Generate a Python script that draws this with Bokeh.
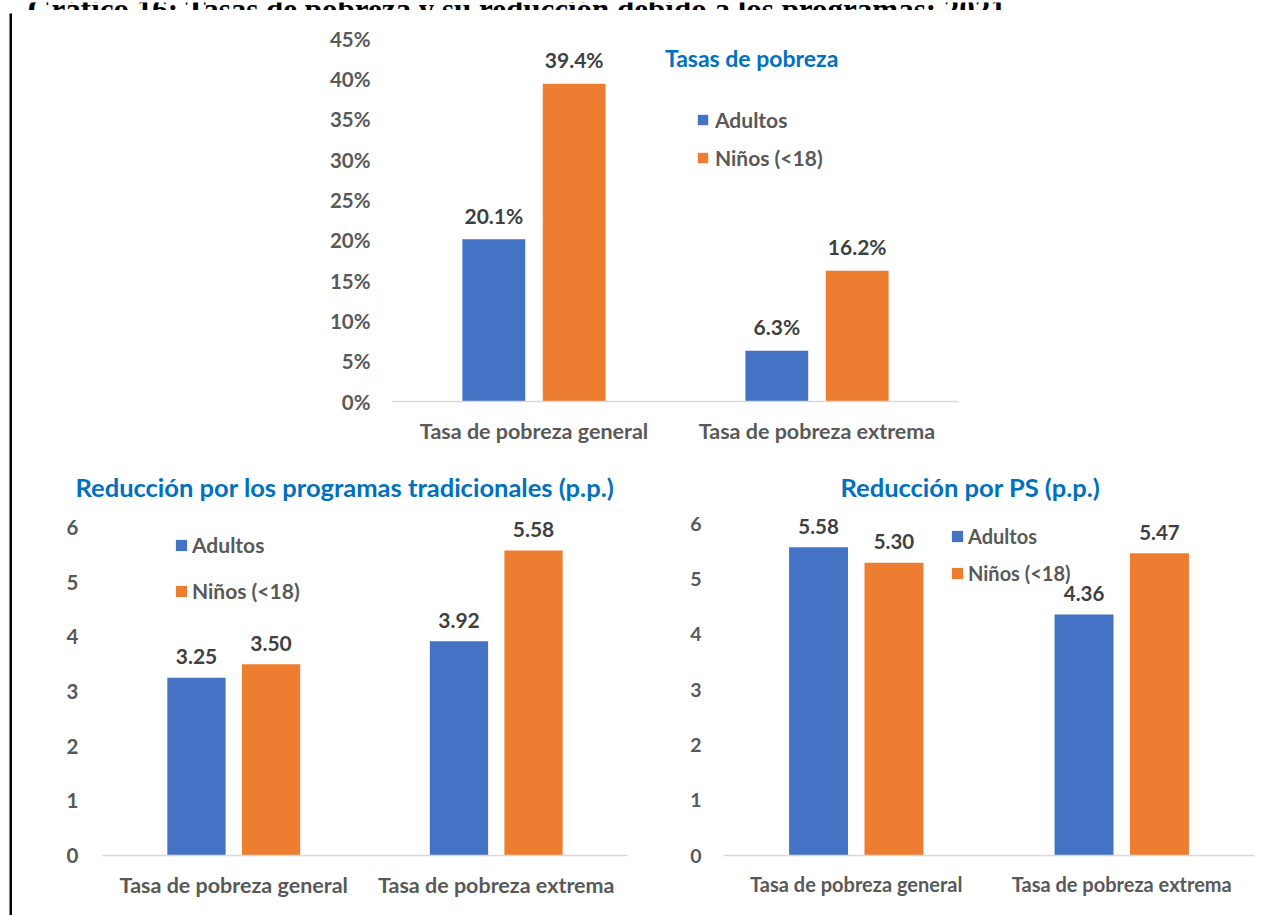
from bokeh.plotting import figure
from bokeh.layouts import row, column
from bokeh.models import (ColumnDataSource, FactorRange, Range1d, FixedTicker,
                          PrintfTickFormatter, Legend, LegendItem, Label, Spacer)
from bokeh.transform import dodge
from bokeh.core.properties import value
from bokeh.embed import file_html
from bokeh.resources import INLINE

# ---- data -------------------------------------------------------------
categorias = ["Tasa de pobreza general", "Tasa de pobreza extrema"]
series = ["Adultos", "Niños (<18)"]

tasas_adultos = [20.1, 6.3]        # %
tasas_ninos = [39.4, 16.2]         # %
trad_adultos = [3.25, 3.92]        # p.p.
trad_ninos = [3.50, 5.58]          # p.p.
ps_adultos = [5.58, 4.36]          # p.p.
ps_ninos = [5.30, 5.47]            # p.p.

ticks_tasas = [0, 5, 10, 15, 20, 25, 30, 35, 40, 45]
ticks_pp = [0, 1, 2, 3, 4, 5, 6]

encabezado = "Gráfico 16: Tasas de pobreza y su reducción debido a los programas: 2021"
titulo_tasas = "Tasas de pobreza"
titulo_trad = "Reducción por los programas tradicionales (p.p.)"
titulo_ps = "Reducción por PS (p.p.)"

# ---- style ------------------------------------------------------------
FONT = "Lato"
AZUL = "#4472C4"
NARANJA = "#ED7D31"
AZUL_TIT = "#0070C0"
GRIS = "#595959"
GRIS_OSC = "#404040"
EJE = "#D9D9D9"

OFF = 0.142     # dodge of each bar from the category centre
ANCHO = 0.222   # bar width (category units)


def panel(width, height, border, y_end, ticks, tick_fmt, adultos, ninos, fmt,
          legend_loc, legend_spacing, glyph, standoff, tick_standoff, x_standoff,
          fs_tick, fs_x, fs_val, fs_leg, val_offset, title=None, title_offset=0):
    left, right, top, bottom = border
    src = ColumnDataSource(dict(
        cat=categorias, adultos=adultos, ninos=ninos,
        lbl_a=[fmt(v) for v in adultos], lbl_n=[fmt(v) for v in ninos]))

    p = figure(x_range=FactorRange(factors=categorias), y_range=Range1d(0, y_end),
               width=width, height=height, output_backend="svg",
               toolbar_location=None, title=title,
               min_border_left=left, min_border_right=right,
               min_border_top=top, min_border_bottom=bottom,
               background_fill_color="white", border_fill_color="white",
               outline_line_color=None)
    p.xgrid.visible = False
    p.ygrid.visible = False

    if title is not None:
        p.title.align = "left"
        p.title.offset = title_offset
        p.title.standoff = 7
        p.title.vertical_align = "bottom"
        p.title.text_font = FONT
        p.title.text_font_style = "bold"
        p.title.text_font_size = "25.5px"
        p.title.text_color = AZUL_TIT

    r_a = p.vbar(x=dodge("cat", -OFF, range=p.x_range), top="adultos", width=ANCHO,
                 source=src, fill_color=AZUL, line_color=None)
    r_n = p.vbar(x=dodge("cat", OFF, range=p.x_range), top="ninos", width=ANCHO,
                 source=src, fill_color=NARANJA, line_color=None)

    # value labels above each bar
    for col, lbl, off in (("adultos", "lbl_a", -OFF), ("ninos", "lbl_n", OFF)):
        p.text(x=dodge("cat", off, range=p.x_range), y=col, text=lbl, source=src,
               text_align="center", text_baseline="alphabetic", y_offset=val_offset,
               text_font=value(FONT), text_font_style="bold",
               text_font_size=f"{fs_val}px", text_color=GRIS_OSC)

    xa = p.xaxis[0]
    xa.axis_line_color = EJE
    xa.axis_line_width = 1.5
    xa.major_tick_line_color = None
    xa.minor_tick_line_color = None
    xa.major_label_text_font = FONT
    xa.major_label_text_font_style = "bold"
    xa.major_label_text_font_size = f"{fs_x}px"
    xa.major_label_text_color = GRIS
    xa.major_label_standoff = x_standoff

    ya = p.yaxis[0]
    ya.ticker = FixedTicker(ticks=ticks)
    ya.formatter = tick_fmt
    ya.axis_line_color = None
    ya.major_tick_line_color = None
    ya.minor_tick_line_color = None
    ya.major_tick_out = 0
    ya.major_label_text_font = FONT
    ya.major_label_text_font_style = "bold"
    ya.major_label_text_font_size = f"{fs_tick}px"
    ya.major_label_text_color = GRIS
    ya.major_label_standoff = tick_standoff

    legend = Legend(items=[LegendItem(label=series[0], renderers=[r_a]),
                           LegendItem(label=series[1], renderers=[r_n])],
                    location=legend_loc, orientation="vertical",
                    border_line_color=None, background_fill_alpha=0,
                    padding=0, margin=0, spacing=legend_spacing,
                    glyph_width=glyph, glyph_height=glyph, label_height=27,
                    label_standoff=standoff,
                    label_text_font=FONT, label_text_font_style="bold",
                    label_text_font_size=f"{fs_leg}px", label_text_color=GRIS)
    p.add_layout(legend)
    return p


def plain(w, h, color):
    return figure(width=w, height=h, min_border=0, toolbar_location=None,
                  output_backend="svg", x_axis_type=None, y_axis_type=None,
                  x_range=Range1d(0, w), y_range=Range1d(h, 0),
                  background_fill_color=color, border_fill_color=color,
                  outline_line_color=None)


# top chart: poverty rates
top_fig = panel(1266, 447, (380, 320, 25, 59), 45, ticks_tasas,
                PrintfTickFormatter(format="%d%%"), tasas_adultos, tasas_ninos,
                lambda v: f"{v:.1f}%", (304, 230), 11, 13, 6, 22, 10,
                20.5, 21.5, 21, 21, -24)
top_fig.add_layout(Label(x=1.269, y=42.64, text=titulo_tasas,
                         text_align="center", text_baseline="middle",
                         text_font=FONT, text_font_style="bold",
                         text_font_size="23px", text_color=AZUL_TIT))

# bottom-left: reduction by traditional programmes
left_fig = panel(648, 455, (90, 33, 45, 60), 6.4025, ticks_pp,
                 PrintfTickFormatter(format="%d"), trad_adultos, trad_ninos,
                 lambda v: f"{v:.2f}", (72, 251), 19, 14, 4, 24, 10,
                 20.5, 21.5, 21, 21, -21, titulo_trad, -27)

# bottom-right: reduction by PS
right_fig = panel(618, 455, (63, 24, 45, 60), 6.3348, ticks_pp,
                  PrintfTickFormatter(format="%d"), ps_adultos, ps_ninos,
                  lambda v: f"{v:.2f}", (227, 269), 10, 14, 4, 22, 10,
                  19.5, 20, 20.5, 20, -21, titulo_ps, 117)

# page heading (runs off the top edge of the page)
header = plain(1278, 10, "white")
header.add_layout(Label(x=27, y=7, text=encabezado, text_align="left",
                        text_baseline="alphabetic", text_font="Liberation Serif",
                        text_font_style="bold", text_font_size="31px",
                        text_color="black"))

body = column(top_fig, row(left_fig, right_fig))
page = column(header,
              row(Spacer(width=9, height=905),
                  column(plain(1269, 3, "black"),
                         row(plain(3, 902, "black"), body))))

open("out.html", "w").write(file_html(page, INLINE))
